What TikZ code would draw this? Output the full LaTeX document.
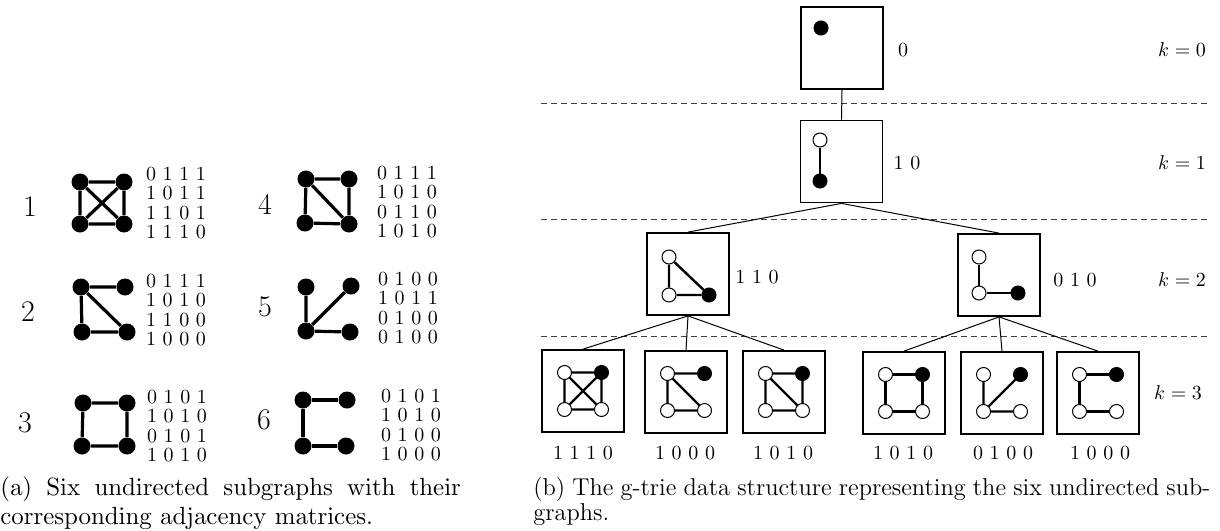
\documentclass[tikz,border=0pt]{standalone}
\font\capafont=cmr10 at 12.44pt
\begin{document}
\begin{tikzpicture}[x=0.5pt,y=-0.5pt,
  bnode/.style={circle,fill=black,inner sep=0pt,minimum size=8.5pt},
  gedge/.style={line width=1.6pt},
  mat/.style={font=\fontsize{10}{9.7}\selectfont,align=left,inner sep=0pt},
  biglab/.style={font=\fontsize{15}{18}\selectfont,inner sep=0pt},
  tbox/.style={draw,line width=0.9pt,minimum size=41pt,inner sep=0pt},
  wn/.style={circle,draw,fill=white,line width=0.5pt,minimum size=7pt,inner sep=0pt},
  bn/.style={circle,draw,fill=black,line width=0.5pt,minimum size=7pt,inner sep=0pt},
  tedge/.style={line width=1.2pt},
  conn/.style={line width=0.5pt},
  klev/.style={dash pattern=on 3pt off 2pt,line width=0.5pt,black!75},
  lab/.style={font=\fontsize{10}{12}\selectfont,inner sep=0pt},
  captxt/.style={font=\fontsize{12.2}{14.5}\selectfont,inner sep=0pt,anchor=base west},
  captxta/.style={font=\capafont,inner sep=0pt,anchor=base west}
]
\useasboundingbox (0,0) rectangle (1220,530);

% ---------------- (a) left panel ----------------
% graph 1
\node[biglab] (l1) at (30,207) {1};
\node[bnode] (g1a) at (80,182) {};
\node[bnode] (g1b) at (124,182) {};
\node[bnode] (g1c) at (80,224) {};
\node[bnode] (g1d) at (124,224) {};
\draw[gedge] (g1a)--(g1b) (g1a)--(g1c) (g1a)--(g1d) (g1b)--(g1c) (g1b)--(g1d) (g1c)--(g1d);
\node[mat] (m1) at (176,203) {0 1 1 1\\1 0 1 1\\1 1 0 1\\1 1 1 0};
% graph 2
\node[biglab] (l2) at (28,312) {2};
\node[bnode] (g2a) at (81,287) {};
\node[bnode] (g2b) at (125,287) {};
\node[bnode] (g2c) at (82,332) {};
\node[bnode] (g2d) at (127,332) {};
\draw[gedge] (g2a)--(g2b) (g2a)--(g2c) (g2a)--(g2d) (g2c)--(g2d);
\node[mat] (m2) at (176,310) {0 1 1 1\\1 0 1 0\\1 1 0 0\\1 0 0 0};
% graph 3
\node[biglab] (l3) at (25,423) {3};
\node[bnode] (g3a) at (83,403) {};
\node[bnode] (g3b) at (127,403) {};
\node[bnode] (g3c) at (82,446) {};
\node[bnode] (g3d) at (127,446) {};
\draw[gedge] (g3a)--(g3b) (g3b)--(g3d) (g3d)--(g3c) (g3c)--(g3a);
\node[mat] (m3) at (177,426) {0 1 0 1\\1 0 1 0\\0 1 0 1\\1 0 1 0};
% graph 4
\node[biglab] (l4) at (265,204) {4};
\node[bnode] (g4a) at (306,179) {};
\node[bnode] (g4b) at (349,179) {};
\node[bnode] (g4c) at (305,223) {};
\node[bnode] (g4d) at (349,224) {};
\draw[gedge] (g4a)--(g4b) (g4a)--(g4c) (g4a)--(g4d) (g4b)--(g4d) (g4c)--(g4d);
\node[mat] (m4) at (407,202) {0 1 1 1\\1 0 1 0\\0 1 1 0\\1 0 1 0};
% graph 5
\node[biglab] (l5) at (265,307) {5};
\node[bnode] (g5a) at (306,287) {};
\node[bnode] (g5b) at (351,286) {};
\node[bnode] (g5c) at (306,331) {};
\node[bnode] (g5d) at (350,332) {};
\draw[gedge] (g5a)--(g5c) (g5c)--(g5b) (g5c)--(g5d);
\node[mat] (m5) at (408,308) {0 1 0 0\\1 0 1 1\\0 1 0 0\\0 1 0 0};
% graph 6
\node[biglab] (l6) at (264,420) {6};
\node[bnode] (g6a) at (303,400) {};
\node[bnode] (g6b) at (347,400) {};
\node[bnode] (g6c) at (303,446) {};
\node[bnode] (g6d) at (346,446) {};
\draw[gedge] (g6a)--(g6b) (g6a)--(g6c) (g6c)--(g6d);
\node[mat] (m6) at (411,425) {0 1 0 1\\1 0 1 0\\0 1 0 0\\1 0 0 0};

\node[captxta] (capa1) at (0,495.5) {\makebox[230.5pt][s]{(a) Six undirected subgraphs with their}};
\node[captxta] (capa2) at (0,524) {corresponding adjacency matrices.};

% ---------------- (b) g-trie ----------------
\draw[klev] (541,103) -- (1207,103);
\draw[klev] (541,219) -- (1207,219);
\draw[klev] (541,336) -- (1207,336);

\node[lab] (k0) at (1182,50) {$k=0$};
\node[lab] (k1) at (1182,163) {$k=1$};
\node[lab] (k2) at (1182,280) {$k=2$};
\node[lab] (k3) at (1178,393) {$k=3$};

% root
\node[tbox,fill=white] (r) at (842,48) {};
\node[bn] (r1) at (821,28) {};
\node[lab] (rl) at (903,50) {0};
% level 1
\node[tbox,fill=white] (n1) at (841.5,161.5) {};
\node[wn] (n1a) at (820,140) {};
\node[bn] (n1b) at (820,181) {};
\draw[tedge] (n1a)--(n1b);
\node[lab] (n1l) at (907,163) {1 0};
% level 2 left
\node[tbox] (n2) at (688,274) {};
\node[wn] (n2a) at (669,257) {};
\node[wn] (n2b) at (669,295) {};
\node[bn] (n2c) at (709,295) {};
\draw[tedge] (n2a)--(n2b) (n2a)--(n2c) (n2b)--(n2c);
\node[lab] (n2l) at (757,277) {1 1 0};
% level 2 right
\node[tbox] (n3) at (999,275) {};
\node[wn] (n3a) at (979,257) {};
\node[wn] (n3b) at (979,293) {};
\node[bn] (n3c) at (1018,293) {};
\draw[tedge] (n3a)--(n3b) (n3b)--(n3c);
\node[lab] (n3l) at (1075,280) {0 1 0};

% level 3
\foreach \nm/\cx/\cy/\lx/\txt in {A/583/391/583/1 1 1 0, B/686/392/685/1 0 0 0, C/784/392/783/1 0 1 0, D/904/393/903/1 0 1 0, E/1002/393/1003/0 1 0 0, F/1098/393/1100/1 0 0 0}{
  \node[tbox] (\nm) at (\cx,\cy) {};
  \node[wn] (\nm tl) at (\cx-18.5,\cy-18.5) {};
  \node[bn] (\nm tr) at (\cx+18.5,\cy-18.5) {};
  \node[wn] (\nm bl) at (\cx-18.5,\cy+18.5) {};
  \node[wn] (\nm br) at (\cx+18.5,\cy+18.5) {};
  \node[lab] (\nm l) at (\lx,453) {\txt};
}
\draw[tedge] (Atl)--(Atr) (Atl)--(Abl) (Atl)--(Abr) (Atr)--(Abl) (Atr)--(Abr) (Abl)--(Abr);
\draw[tedge] (Btl)--(Btr) (Btl)--(Bbl) (Btl)--(Bbr) (Bbl)--(Bbr);
\draw[tedge] (Ctl)--(Ctr) (Ctl)--(Cbl) (Ctl)--(Cbr) (Ctr)--(Cbr) (Cbl)--(Cbr);
\draw[tedge] (Dtl)--(Dtr) (Dtr)--(Dbr) (Dbr)--(Dbl) (Dbl)--(Dtl);
\draw[tedge] (Etl)--(Ebl) (Ebl)--(Etr) (Ebl)--(Ebr);
\draw[tedge] (Ftl)--(Ftr) (Ftl)--(Fbl) (Fbl)--(Fbr);

% connectors
\draw[conn] (r.south) -- (n1.north);
\draw[conn] (n1.south) -- (n2.north);
\draw[conn] (n1.south) -- (n3.north);
\draw[conn] (n2.south) -- (A.north);
\draw[conn] (n2.south) -- (B.north);
\draw[conn] (n2.south) -- (C.north);
\draw[conn] (n3.south) -- (D.north);
\draw[conn] (n3.south) -- (E.north);
\draw[conn] (n3.south) -- (F.north);

\node[captxt] (capb1) at (533,495) {\makebox[338.5pt][s]{(b) The g-trie data structure representing the six undirected sub-}};
\node[captxt] (capb2) at (533,520) {graphs.};
\end{tikzpicture}
\end{document}
